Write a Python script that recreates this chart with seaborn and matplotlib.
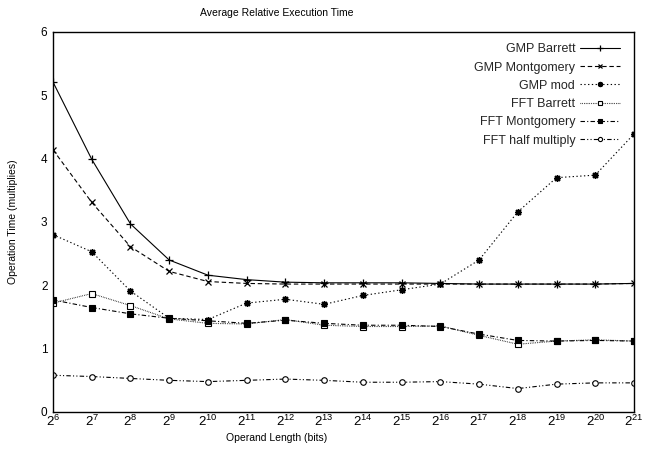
import matplotlib
matplotlib.use("Agg")
import matplotlib.pyplot as plt
import seaborn as sns
import pandas as pd

exponents = [6, 7, 8, 9, 10, 11, 12, 13, 14, 15, 16, 17, 18, 19, 20, 21]
gmp_barrett = [5.21, 3.99, 2.97, 2.40, 2.16, 2.09, 2.05, 2.04, 2.04, 2.04, 2.03, 2.02, 2.02, 2.02, 2.02, 2.03]
gmp_montgomery = [4.14, 3.31, 2.61, 2.22, 2.06, 2.03, 2.02, 2.02, 2.02, 2.02, 2.02, 2.02, 2.02, 2.02, 2.02, 2.03]
gmp_mod = [2.80, 2.53, 1.91, 1.48, 1.46, 1.72, 1.78, 1.70, 1.84, 1.93, 2.02, 2.40, 3.16, 3.70, 3.74, 4.39]
fft_barrett = [1.72, 1.87, 1.68, 1.47, 1.40, 1.39, 1.46, 1.37, 1.35, 1.35, 1.36, 1.21, 1.07, 1.12, 1.14, 1.12]
fft_montgomery = [1.77, 1.65, 1.55, 1.48, 1.44, 1.40, 1.45, 1.40, 1.37, 1.37, 1.35, 1.23, 1.13, 1.12, 1.13, 1.12]
fft_half = [0.58, 0.56, 0.53, 0.50, 0.48, 0.50, 0.52, 0.50, 0.47, 0.47, 0.48, 0.44, 0.37, 0.44, 0.46, 0.46]

series_names = ["GMP Barrett", "GMP Montgomery", "GMP mod", "FFT Barrett", "FFT Montgomery", "FFT half multiply"]
series_values = [gmp_barrett, gmp_montgomery, gmp_mod, fft_barrett, fft_montgomery, fft_half]
x_tick_labels = [r"$\mathregular{2^{%d}}$" % e for e in exponents]
y_ticks = [0, 1, 2, 3, 4, 5, 6]

sns.set_theme(style="white")
plt.rcParams["font.family"] = ["Liberation Sans", "DejaVu Sans"]
plt.rcParams["mathtext.fontset"] = "custom"
plt.rcParams["mathtext.rm"] = "Liberation Sans"
plt.rcParams["mathtext.it"] = "Liberation Sans:italic"
plt.rcParams["mathtext.bf"] = "Liberation Sans:bold"

styles = {
    "GMP Barrett": dict(linestyle="-", marker="+", ms=5.5, mew=0.9),
    "GMP Montgomery": dict(linestyle=(0, (4, 2.5)), marker="x", ms=4.8, mew=0.9),
    "GMP mod": dict(linestyle=(0, (1.2, 2.2)), marker=(8, 2, 0), ms=5.0, mew=1.0),
    "FFT Barrett": dict(linestyle=(0, (0.6, 1.0)), marker="s", ms=4.4, mfc="white", mew=0.8),
    "FFT Montgomery": dict(linestyle=(0, (4, 2, 1, 2)), marker="s", ms=4.6, mfc="black", mew=0.8),
    "FFT half multiply": dict(linestyle=(0, (4, 2, 1, 2, 1, 2)), marker="o", ms=4.0, mfc="white", mew=0.8),
}

fig = plt.figure(figsize=(6.48, 4.53), dpi=100)
ax = fig.add_axes([53 / 648, 1 - 412 / 453, 581 / 648, 380 / 453])

for name, vals in zip(series_names, series_values):
    df = pd.DataFrame({"exp": exponents, "val": vals})
    sns.lineplot(data=df, x="exp", y="val", ax=ax, color="black", lw=0.8,
                 label=name, mec="black", **styles[name])

ax.set_xlim(exponents[0], exponents[-1])
ax.set_ylim(0, 6)
ax.set_xticks(exponents)
ax.set_xticklabels(x_tick_labels, fontsize=9.5)
ax.set_yticks(y_ticks)
ax.set_yticklabels([str(t) for t in y_ticks], fontsize=8.5)
ax.tick_params(axis="both", direction="in", length=5, width=0.8, colors="black", pad=4)
ax.tick_params(axis="x", pad=1.5)
for sp in ax.spines.values():
    sp.set_color("black")
    sp.set_linewidth(1.0)

ax.set_xlabel("Operand Length (bits)", fontsize=7.5, color="black")
ax.xaxis.set_label_coords((277 - 53) / 581, -0.056)
ax.set_ylabel("Operation Time (multiplies)", fontsize=7.5, color="black")
ax.yaxis.set_label_coords(-0.06, 0.5)
fig.text(277 / 648, 1 - 13 / 453, "Average Relative Execution Time", fontsize=7.5,
         ha="center", va="center", color="black")

leg = ax.legend(loc="upper right", frameon=False, markerfirst=False, fontsize=9,
                handlelength=3.2, handletextpad=0.35, labelspacing=0.5,
                bbox_to_anchor=(0.988, 0.99), borderaxespad=0.2)
for h in leg.legend_handles:
    h.set_markersize(h.get_markersize() * 0.75)

fig.savefig("out.png", dpi=100)
